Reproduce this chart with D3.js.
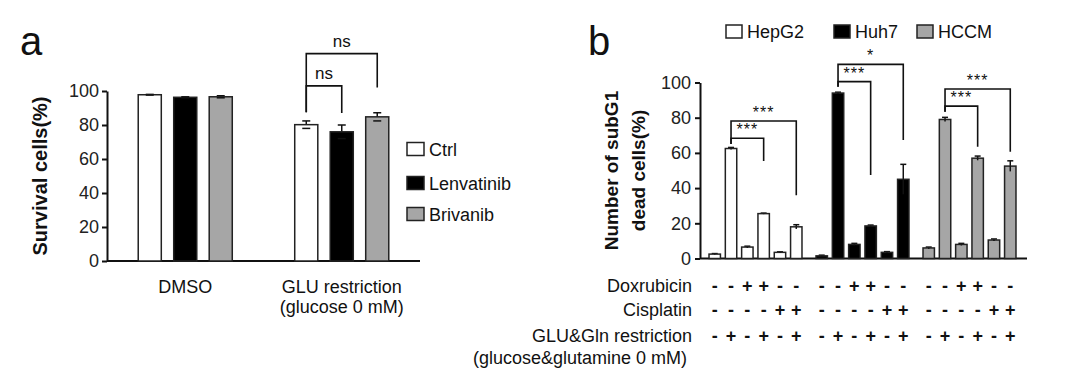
<!DOCTYPE html>
<html>
<head>
<meta charset='utf-8'>
<title>Survival and subG1 panels</title>
<style>
	body {margin: 0; background: #fff}
	svg {font-family: "Liberation Sans", Arial, sans-serif; fill: #111}
	.axis path, .axis line {stroke: #111; stroke-width: 2px}
	.axis text {font-size: 18px; fill: #222}
	.bar {stroke: #222; stroke-width: 1.5px}
	.err {stroke: #111; stroke-width: 1.5px}
	.brk {stroke: #111; stroke-width: 1.6px; fill: none}
</style>
</head>
<body>
<script src='https://cdn.jsdelivr.net/npm/d3@7/dist/d3.min.js'></script>
<script>

// ---- panel a data ----
var groupsA = ["DMSO", "GLU restriction"];
var groupSubA = ["", "(glucose 0 mM)"];
var treatments = ["Ctrl", "Lenvatinib", "Brivanib"];
var survivalMean = [[97.8, 96.3, 96.6], [80.2, 76.0, 84.8]];
var survivalErr = [[0.2, 0.3, 0.6], [2.2, 4.0, 2.4]];
var ticksA = [0, 20, 40, 60, 80, 100];
// brackets: [from, to, level, leftEnd, rightEnd, label] in % units
var bracketsA = [
	[0, 1, 103, 87.5, 87, "ns"],
	[0, 2, 122, 87.5, 102, "ns"]
];

// ---- panel b data ----
var cellLines = ["HepG2", "Huh7", "HCCM"];
var conditions = [0, 1, 2, 3, 4, 5];
var subG1Mean = [
	[2.5, 62.5, 6.5, 25.5, 3.5, 18.0],
	[1.5, 94.0, 8.0, 18.5, 3.5, 45.0],
	[6.0, 79.0, 8.0, 57.0, 10.5, 52.5]
];
var subG1Err = [
	[0.3, 0.6, 0.5, 0.3, 0.3, 1.2],
	[0.4, 0.5, 0.6, 0.5, 0.4, 8.5],
	[0.5, 1.2, 0.6, 1.2, 0.6, 3.0]
];
var ticksB = [0, 20, 40, 60, 80, 100];
var rowLabels = ["Doxrubicin", "Cisplatin", "GLU&Gln restriction"];
var doxRow = ["-", "-", "+", "+", "-", "-"];
var cisRow = ["-", "-", "-", "-", "+", "+"];
var gluRow = ["-", "+", "-", "+", "-", "+"];
// brackets: [line, from, to, level, leftEnd, rightEnd, label]
var bracketsB = [
	[0, 1, 3, 68.3, 65, 55.4, "***"],
	[0, 1, 5, 78.1, 65, 36, "***"],
	[1, 1, 3, 100.5, 97.6, 47.4, "***"],
	[1, 1, 5, 110.3, 97.6, 67.3, "*"],
	[2, 1, 3, 86.6, 83.4, 63.5, "***"],
	[2, 1, 5, 96.3, 83.4, 60.7, "***"]
];

var fills = ["#ffffff", "#000000", "#a6a6a6"];

var svg = d3.select('body').append('svg').attr('width', 1080).attr('height', 370);

// ================= panel a =================
var ya = d3.scaleLinear().domain([0, 100]).range([261, 91]);
var x0a = d3.scaleBand().domain(groupsA).range([107, 420]);
var x1a = d3.scaleBand().domain(treatments).range([0, x0a.bandwidth()]).paddingInner(0.35).paddingOuter(0.88);

var pa = svg.append('g');

pa.append('text').attr('x', 20).attr('y', 55).attr('font-size', 40).text('a');

pa.append('g').attr('class', 'axis').attr('transform', 'translate(107,0)')
	.call(d3.axisLeft(ya).tickValues(ticksA).tickSize(5).tickSizeOuter(0).tickPadding(3));
pa.append('line').attr('x1', 107).attr('x2', 420).attr('y1', ya(0)).attr('y2', ya(0))
	.attr('stroke', '#111').attr('stroke-width', 2);

pa.append('text').attr('transform', 'translate(47,' + ya(50) + ') rotate(-90)')
	.attr('text-anchor', 'middle').attr('font-size', 20).attr('font-weight', 'bold')
	.text('Survival cells(%)');

groupsA.forEach(function(g, gi) {
	var gg = pa.append('g').attr('transform', 'translate(' + x0a(g) + ',0)');
	treatments.forEach(function(t, ti) {
		var v = survivalMean[gi][ti], e = survivalErr[gi][ti];
		var cx = x1a(t) + x1a.bandwidth() / 2;
		gg.append('line').attr('class', 'err').attr('x1', cx).attr('x2', cx).attr('y1', ya(v + e)).attr('y2', ya(v - e));
		gg.append('line').attr('class', 'err').attr('x1', cx - 4).attr('x2', cx + 4).attr('y1', ya(v + e)).attr('y2', ya(v + e));
		gg.append('rect').attr('class', 'bar').attr('x', x1a(t)).attr('width', x1a.bandwidth())
			.attr('y', ya(v)).attr('height', ya(0) - ya(v)).attr('fill', fills[ti]);
		gg.append('line').attr('class', 'err').attr('x1', cx - 4).attr('x2', cx + 4).attr('y1', ya(v - e)).attr('y2', ya(v - e))
			.attr('stroke', ti == 1 ? 'none' : '#111');
	});
	pa.append('text').attr('x', x0a(g) + x0a.bandwidth() / 2).attr('y', 293)
		.attr('text-anchor', 'middle').attr('font-size', 18).text(g);
	if (groupSubA[gi]) pa.append('text').attr('x', x0a(g) + x0a.bandwidth() / 2).attr('y', 313)
		.attr('text-anchor', 'middle').attr('font-size', 18).text(groupSubA[gi]);
});

bracketsA.forEach(function(b) {
	var g = groupsA[1];
	var xl = x0a(g) + x1a(treatments[b[0]]) + x1a.bandwidth() / 2;
	var xr = x0a(g) + x1a(treatments[b[1]]) + x1a.bandwidth() / 2;
	pa.append('path').attr('class', 'brk')
		.attr('d', 'M' + xl + ',' + ya(b[3]) + 'V' + ya(b[2]) + 'H' + xr + 'V' + ya(b[4]));
	pa.append('text').attr('x', (xl + xr) / 2).attr('y', ya(b[2]) - 7)
		.attr('text-anchor', 'middle').attr('font-size', 17).text(b[5]);
});

var legA = pa.append('g').attr('transform', 'translate(407,0)');
treatments.forEach(function(t, ti) {
	var cy = [149, 183, 214][ti];
	legA.append('rect').attr('x', 0).attr('y', cy - 6.5).attr('width', 17).attr('height', 13)
		.attr('fill', fills[ti]).attr('stroke', '#222').attr('stroke-width', 1.5);
	legA.append('text').attr('x', 22).attr('y', cy + 6.5).attr('font-size', 18).text(t);
});

// ================= panel b =================
var yb = d3.scaleLinear().domain([0, 100]).range([258.5, 82.5]);
var x0b = d3.scaleBand().domain(cellLines).range([702, 1023]);
var x1b = d3.scaleBand().domain(conditions).range([0, x0b.bandwidth()]).paddingInner(0.3).paddingOuter(0.43);

var pb = svg.append('g');
pb.append('text').attr('x', 588).attr('y', 55).attr('font-size', 40).text('b');

pb.append('g').attr('class', 'axis').attr('transform', 'translate(700,0)')
	.call(d3.axisLeft(yb).tickValues(ticksB).tickSize(5).tickSizeOuter(0).tickPadding(4));
pb.append('line').attr('x1', 700).attr('x2', 1027).attr('y1', yb(0)).attr('y2', yb(0))
	.attr('stroke', '#111').attr('stroke-width', 2);

pb.append('text').attr('transform', 'translate(618,' + yb(50) + ') rotate(-90)')
	.attr('text-anchor', 'middle').attr('font-size', 19).attr('font-weight', 'bold')
	.text('Number of subG1');
pb.append('text').attr('transform', 'translate(645,' + yb(50) + ') rotate(-90)')
	.attr('text-anchor', 'middle').attr('font-size', 19).attr('font-weight', 'bold')
	.text('dead cells(%)');

function barX(li, ci) { return x0b(cellLines[li]) + x1b(ci) + x1b.bandwidth() / 2; }

cellLines.forEach(function(c, li) {
	conditions.forEach(function(ci) {
		var v = subG1Mean[li][ci], e = subG1Err[li][ci];
		var cx = barX(li, ci);
		pb.append('line').attr('class', 'err').attr('x1', cx).attr('x2', cx).attr('y1', yb(v + e)).attr('y2', yb(v));
		pb.append('line').attr('class', 'err').attr('x1', cx - 3).attr('x2', cx + 3).attr('y1', yb(v + e)).attr('y2', yb(v + e));
		pb.append('rect').attr('class', 'bar').attr('x', x0b(c) + x1b(ci)).attr('width', x1b.bandwidth())
			.attr('y', yb(v)).attr('height', yb(0) - yb(v)).attr('fill', fills[li]);
		pb.append('line').attr('class', 'err').attr('x1', cx).attr('x2', cx).attr('y1', yb(v)).attr('y2', yb(v - e))
			.attr('stroke', li == 1 ? '#fff' : '#111');
	});
});

bracketsB.forEach(function(b) {
	var xl = barX(b[0], b[1]), xr = barX(b[0], b[2]);
	pb.append('path').attr('class', 'brk')
		.attr('d', 'M' + xl + ',' + yb(b[4]) + 'V' + yb(b[3]) + 'H' + xr + 'V' + yb(b[5]));
	pb.append('text').attr('x', (xl + xr) / 2).attr('y', yb(b[3]) - 3)
		.attr('text-anchor', 'middle').attr('font-size', 16).attr('letter-spacing', 1).text(b[6]);
});

var rows = [doxRow, cisRow, gluRow];
var rowY = [292, 316, 342];
rows.forEach(function(r, ri) {
	pb.append('text').attr('x', 692).attr('y', rowY[ri]).attr('text-anchor', 'end')
		.attr('font-size', 18).text(rowLabels[ri]);
	cellLines.forEach(function(c, li) {
		r.forEach(function(s, ci) {
			pb.append('text').attr('x', barX(li, ci)).attr('y', rowY[ri]).attr('text-anchor', 'middle')
				.attr('font-size', 18).attr('font-weight', 'bold').text(s);
		});
	});
});
pb.append('text').attr('x', 580).attr('y', 364).attr('text-anchor', 'middle')
	.attr('font-size', 18).text('(glucose&glutamine 0 mM)');

var legX = [726, 834, 917];
cellLines.forEach(function(c, li) {
	pb.append('rect').attr('x', legX[li]).attr('y', 25).attr('width', 16).attr('height', 13)
		.attr('fill', fills[li]).attr('stroke', '#222').attr('stroke-width', 1.5);
	pb.append('text').attr('x', legX[li] + 21).attr('y', 38).attr('font-size', 18).text(c);
});

</script>
</body>
</html>
